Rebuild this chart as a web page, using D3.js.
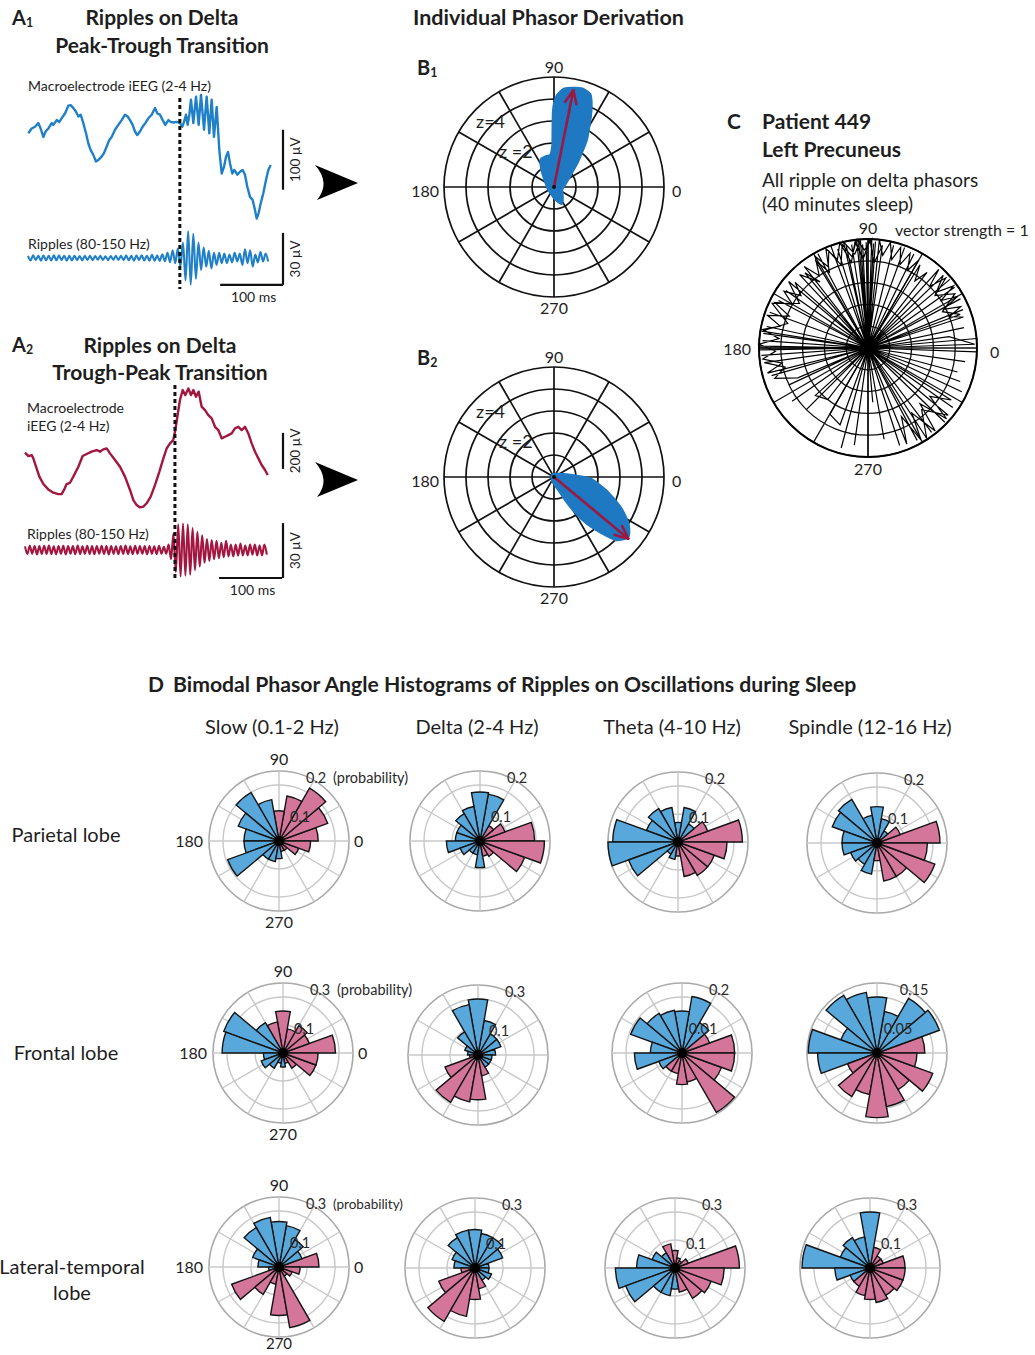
<!DOCTYPE html>
<html><head><meta charset="utf-8">
<script src="https://cdn.jsdelivr.net/npm/d3@7"></script>
<style>
body{margin:0;background:#fff}
svg{display:block}
text{font-family:Lato,'Open Sans',sans-serif}
</style>
</head><body>
<svg id="fig" width="1035" height="1355"></svg>
<script>
// ---------------- DATA ----------------
// Panel A1 (ms, µV)
const macroA1Time = [0.5,5.8,11.1,16.4,20.1,24.3,28,32.3,37.6,40.2,45.5,49.7,53.4,58.7,64,67.7,72,76.2,79.9,83.6,87.8,92.1,95.8,99.5,103.7,107.9,112.2,116.9,120.6,124.9,129.1,132.8,138.1,143.4,148.7,154,158.2,161.9,166.1,169.8,173.5,177.8,182,186.2,191,196.3,201.6,205.3,209.5,213.8,218,222.8,226.5,230.7,236,241.3,245,247.6,250.8,253.4,256.1,258.7,262.4,266.7,270.9,274.6,279.4,283.6,287.8,291.5,295.2,299.5,303.7,307.4,311.1,314.3,317.5,320.6,324.3,327.5,332.3,336.5,340.7,344.4,348.1,352.4,356.6,360.3,363,366.1,369.3,373.5,377.8,381.5,385.2];
const macroA1Volt = [0,8,11,17,8,-6,3,8,17,14,22,19,25,33,46,47,42,36,28,31,17,0,-17,-28,-36,-47,-44,-39,-33,-22,-11,-6,6,14,22,31,28,22,14,3,-3,3,11,17,25,31,42,33,31,22,14,22,19,18,19,17,11,19,31,14,31,56,17,61,14,64,6,61,0,56,-6,44,-28,-67,-56,-39,-31,-50,-67,-61,-69,-64,-61,-69,-89,-106,-111,-128,-142,-133,-117,-100,-78,-61,-53];
const rippleA1Step = 4.1; // ms between successive extrema
const rippleA1 = [1.2,-1.4,1.5,-1.2,1.3,-1.5,1.4,-1.3,1.2,-1.4,1.5,-1.3,1.4,-1.2,1.3,-1.5,1.2,-1.4,1.3,-1.2,1.1,-1.3,1.2,-1.1,1.3,-1.2,1.1,-1.0,1.2,-1.1,1.0,-1.2,1.1,-1.0,1.2,-1.1,1.3,-1.2,1.4,-1.3,1.2,-1.5,1.4,-1.2,1.6,-1.4,1.3,-1.5,1.8,-1.6,1.4,-1.7,
  2.2,-1.8,3.0,-2.4,4.5,-3.0,5.5,
  -5,9,-13,15.5,-15.5,14,-12,9,
  -7,6,-5,4,-6,3,-4,3,-3,
  2.5,-3,2,-2.5,3,-2,2.5,-4,5,-3,4.5,-5,2,-2.5,3.5,-2,2.5,-2];
// Panel A2
const macroA2Time = [0,5.3,10.6,13.2,17.5,22.8,29.1,37,45,52.9,58.2,61.9,66.1,71.4,76.7,84.7,91.5,97.9,105.8,113.8,119,124.3,129.6,134.9,142.9,150.8,158.7,166.7,172,177.2,182.5,187.8,193.1,199.5,206.3,213.2,219.6,224.9,230.2,235.4,238.6,241.8,246,250.3,254.5,259.3,263.5,267.2,271.4,275.7,280.4,285.7,291,296.3,301.6,306.9,312.2,317.5,322.8,328,333.3,338.6,343.9,349.2,354.5,359.8,365.1,370.4,375.7,381,385.2];
const macroA2Volt = [0,-18.5,-13,-31.5,-77.8,-133,-174,-204,-222,-230,-230,-207,-174,-167,-133,-78,-18.5,-7.4,5.6,14.8,5.6,18.5,24,-3.7,-40.7,-77.8,-133,-207,-263,-291,-304,-300,-281,-244,-180,-106,-31.5,24,51.9,70.4,126,200,292.6,348,320,357,320,348,311,339,255.6,237,209,190.7,144,126,79.6,88.9,98,107,135,144,126,144,107,51.9,5.6,-31.5,-68.5,-96.3,-124];
const rippleA2Step = 3.8;
const rippleA2 = [2,-2.2,2.3,-2,2.2,-2.4,2.1,-2.2,2.3,-2.1,2.4,-2.2,2,-2.3,2.2,-2.1,2.3,-2.4,2.2,-2,2.1,-2.3,2.4,-2.2,2,-2.1,2.3,-2.2,2.1,-2.3,2.2,-2,2.3,-2.2,2.1,-2.4,2.2,-2.1,2,-2.3,2.2,-2.1,2.4,-2.2,2,-2.2,2.3,-2.1,2.2,-2,2.1,-2.3,2.2,-2.1,2,-2.2,2.3,-2,1.8,-2,
  3,-5,9,-12,14,-14.5,14.5,-14,14,-13.5,12,-11,10,-9,8,-7,
  6,-6,5.5,-5,5,-4.5,4,-4,5,-3.5,3,-3.5,3,-3,3.5,-3,2.5,-3,3,-2.5,3,-3,2.5,-3,3,-2.5];

// Panel B: phasor cloud outlines [angle deg, z] and resultant vectors
const phasorB1 = [[275,0.5],[295,0.8],[310,0.55],[340,0.35],[10,0.45],[30,0.7],[40,1.0],[47,1.5],[52,2.0],[56,2.6],[60,3.1],[63,3.6],[66,4.1],[69,4.5],[74,4.62],[79,4.55],[84,4.45],[88,4.1],[90,3.5],[90.5,2.6],[91,1.9],[95,1.45],[105,1.4],[115,1.35],[125,0.9],[150,0.4],[200,0.25],[250,0.3]];
const vectorB1 = [78.7, 4.48];
const phasorB2 = [[20,0.3],[2,0.9],[356,1.65],[344,2.5],[334,3.4],[327,4.0],[321,4.3],[315,4.0],[311,3.35],[306,2.6],[302,1.9],[298,1.2],[292,0.6],[260,0.2],[120,0.1]];
const vectorB2 = [320.3, 4.39];

// Panel C: all ripple-on-delta phasors [angle deg, vector strength], in drawing order
const phasorC = [[0,0],[88,1],[92,0.9],[96,1],[100,0.85],[104,0.98],[108,0.8],[112,0.96],[116,0.83],[120,0.97],[124,0.8],[128,0.95],[0,0],
 [84,1],[81,0.86],[78,0.99],[75,0.84],[72,0.97],[69,0.82],[66,0.95],[63,0.8],[60,0.93],[0,0],
 [90,1],[0,0],[94,0.99],[98,0.87],[103,1],[0,0],[86,0.98],[0,0],[91,0.97],[0,0],[95,1],[0,0],[99,0.96],[0,0],
 [82,0.95],[86,0.78],[89,1],[93,0.82],[97,0.98],[101,0.8],[105,1],[109,0.86],[113,0.99],[117,0.78],[121,0.94],[0,0],
 [130,0.9],[126,0.75],[133,0.92],[0,0],[118,0.98],[0,0],[110,1],[0,0],[76,0.97],[0,0],[70,0.98],[0,0],[64,0.96],[0,0],
 [58,0.9],[55,0.75],[52,0.88],[0,0],[93,0.95],[0,0],[96,0.98],[0,0],[87,0.96],[0,0],[102,0.97],[0,0],[107,0.95],[0,0],
 [138,0.9],[142,0.78],[146,0.93],[150,0.8],[154,0.95],[158,0.78],[162,0.97],[166,0.83],[170,0.98],[174,0.82],[178,1],[182,0.85],[186,0.97],[190,0.8],[194,0.95],[0,0],
 [180,1],[0,0],[179,1],[0,0],[181,0.99],[0,0],[176,0.97],[0,0],[168,0.95],[0,0],[160,0.96],[0,0],[152,0.93],[0,0],[145,0.92],[0,0],
 [188,0.96],[193,0.78],[198,0.9],[203,0.7],[0,0],[196,0.92],[0,0],[205,0.8],[0,0],
 [140,0.95],[147,0.75],[155,0.97],[163,0.77],[171,0.99],[0,0],[184,0.98],[0,0],[172,0.97],[0,0],
 [48,0.97],[45,0.8],[42,0.96],[39,0.82],[36,0.97],[33,0.8],[30,0.95],[27,0.78],[24,0.93],[21,0.8],[18,0.92],[0,0],
 [40,0.98],[0,0],[35,0.97],[0,0],[28,0.96],[0,0],[22,0.94],[0,0],[44,0.96],[38,0.78],[32,0.94],[26,0.76],[20,0.9],[0,0],
 [12,0.9],[0,0],[5,1],[0,0],[2,0.98],[8,0.75],[0,0],[358,1],[0,0],[352,0.9],[0,0],
 [335,0.95],[0,0],[328,0.9],[322,0.72],[318,0.97],[313,0.7],[309,0.98],[304,0.72],[300,0.97],[296,0.7],[292,0.95],[0,0],
 [316,0.98],[0,0],[307,0.97],[0,0],[298,0.96],[0,0],[288,0.94],[0,0],[325,0.95],[0,0],[340,0.9],[0,0],[345,0.85],[0,0],
 [320,0.96],[311,0.75],[303,0.99],[0,0],
 [270,1],[0,0],[262,0.9],[0,0],[250,0.75],[240,0.7],[0,0],[232,0.6],[222,0.65],[0,0],[215,0.85],[0,0],[280,0.85],[0,0],[255,0.95],[0,0],[225,0.8],[0,0],[275,0.5],[0,0]];

// Panel D: rose histograms, 18 bins of 20 deg (bin centres)
const binCenters = [10,30,50,70,90,110,130,150,170,190,210,230,250,270,290,310,330,350];
const bandNames = ["Slow (0.1-2 Hz)","Delta (2-4 Hz)","Theta (4-10 Hz)","Spindle (12-16 Hz)"];
const lobeNames = ["Parietal lobe","Frontal lobe","Lateral-temporal","lobe"];
const parietalSlow    = [0.14,0.185,0.218,0.163,0.108,0.15,0.2,0.155,0.125,0.125,0.195,0.075,0.075,0.063,0.038,0.038,0.075,0.113];
const parietalDelta   = [0.195,0.095,0.063,0.17,0.175,0.125,0.113,0.088,0.088,0.12,0.075,0.05,0.05,0.095,0.055,0.063,0.17,0.23];
const parietalTheta   = [0.23,0.113,0.075,0.125,0.07,0.125,0.138,0.12,0.233,0.25,0.188,0.05,0.063,0.05,0.125,0.138,0.138,0.175];
const parietalSpindle = [0.225,0.088,0.05,0.088,0.13,0.1,0.18,0.17,0.125,0.125,0.1,0.088,0.113,0.063,0.138,0.138,0.22,0.18];
const frontalSlow     = [0.281,0.15,0.169,0.131,0.225,0.169,0.188,0.338,0.326,0.105,0.124,0.094,0.056,0.075,0.056,0.094,0.188,0.188];
const frontalDelta    = [0.094,0.131,0.131,0.188,0.3,0.274,0.143,0.075,0.056,0.045,0.188,0.293,0.255,0.24,0.113,0.075,0.075,0.075];
const frontalTheta    = [0.188,0.105,0.125,0.205,0.15,0.155,0.163,0.195,0.113,0.17,0.088,0.075,0.075,0.113,0.105,0.245,0.15,0.188];
const frontalSpindle  = [0.128,0.178,0.169,0.113,0.15,0.165,0.178,0.103,0.184,0.159,0.084,0.135,0.113,0.173,0.146,0.113,0.159,0.107];
const temporalSlow    = [0.214,0.131,0.169,0.225,0.244,0.27,0.244,0.15,0.113,0.056,0.27,0.169,0.094,0.26,0.33,0.056,0.075,0.113];
const temporalDelta   = [0.075,0.158,0.188,0.188,0.206,0.206,0.188,0.131,0.113,0.075,0.206,0.33,0.263,0.169,0.113,0.075,0.094,0.075];
const temporalTheta   = [0.345,0.075,0.045,0.056,0.094,0.131,0.094,0.131,0.206,0.319,0.281,0.15,0.15,0.113,0.131,0.188,0.206,0.263];
const temporalSpindle = [0.188,0.075,0.075,0.113,0.3,0.169,0.188,0.169,0.364,0.188,0.113,0.113,0.15,0.169,0.188,0.169,0.188,0.188];
// mode membership per bin: b = mode 1 (blue), p = mode 2 (pink)
const parietalSlowMode    = "pppppbbbbbbbbbpppp";
const parietalDeltaMode   = "pppbbbbbbbbbbbpppp";
const parietalThetaMode   = "ppbbbbbbbbbbbppppp";
const parietalSpindleMode = "ppbbbbbbbbbbbppppp";
const frontalSlowMode     = "ppppppbbbbbbbbpppp";
const frontalDeltaMode    = "bbbbbbbbbppppppbbb";
const frontalThetaMode    = "ppbbbbbbbbbppppppp";
const frontalSpindleMode  = "pbbbbbbbbbpppppppp";
const temporalSlowMode    = "pbbbbbbbbbpppppppp";
const temporalDeltaMode   = "bbbbbbbbbppppppbbb";
const temporalThetaMode   = "ppppppbbbbbbbbpppp";
const temporalSpindleMode = "ppppbbbbbbbppppppp";
// radial tick labels [outer, inner] and value of outer labelled ring
const rowTickLabels = [
  [["0.2","0.1"],["0.2","0.1"],["0.2","0.1"],["0.2","0.1"]],
  [["0.3","0.1"],["0.3","0.1"],["0.2","0.01"],["0.15","0.05"]],
  [["0.3","0.1"],["0.3","0.1"],["0.3","0.1"],["0.3","0.1"]]
];
const rowOuterValue = [[0.2,0.2,0.2,0.2],[0.3,0.3,0.2,0.15],[0.3,0.3,0.3,0.3]];

// ---------------- DRAWING ----------------
const svg = d3.select("#fig");
const INK = "#1e1e1e";
const BLUE_TR = "#1f80c8", RED_TR = "#a3163f";
const BLUE_B = "#1e78c2", ARROW = "#9c1840";
const ROSE_BLUE = "#59a8dc", ROSE_PINK = "#d4759a";
const rad = d => d * Math.PI / 180;

function txt(x, y, s, o = {}) {
  const t = svg.append("text").attr("x", x).attr("y", y).text(s)
    .attr("font-size", o.size || 14).attr("font-weight", o.bold ? "bold" : "normal")
    .attr("text-anchor", o.anchor || "start").attr("fill", o.fill || INK);
  if (o.transform) t.attr("transform", o.transform);
  return t;
}
function subLabel(x, y, main, sub, size) {
  const t = svg.append("text").attr("x", x).attr("y", y).attr("font-weight", "bold")
    .attr("font-size", size).attr("fill", INK);
  t.append("tspan").text(main);
  t.append("tspan").attr("font-size", size * 0.62).attr("dy", 2).text(sub);
}

// ---- Panel A (waveforms) ----
function panelA(cfg) {
  const x = d3.scaleLinear().domain([0, 390]).range(cfg.xr);
  const yM = d3.scaleLinear().domain([0, 1]).range([cfg.m0, cfg.m0 - cfg.mpx]);
  const yR = d3.scaleLinear().domain([0, 1]).range([cfg.r0, cfg.r0 - cfg.rpx]);
  const macro = cfg.mt.map((t, i) => [t, cfg.mv[i]]);
  const rip = cfg.rip.map((v, i) => [i * cfg.step, v]);
  svg.append("path").datum(macro)
    .attr("d", d3.line().x(d => x(d[0])).y(d => yM(d[1])))
    .attr("fill", "none").attr("stroke", cfg.col).attr("stroke-width", 2.4).attr("stroke-linejoin", "round");
  svg.append("path").datum(rip)
    .attr("d", d3.line().x(d => x(d[0])).y(d => yR(d[1])).curve(d3.curveMonotoneX))
    .attr("fill", "none").attr("stroke", cfg.col).attr("stroke-width", 2.1);
  svg.append("line").attr("x1", x(cfg.onset)).attr("x2", x(cfg.onset))
    .attr("y1", cfg.dash[0]).attr("y2", cfg.dash[1])
    .attr("stroke", "#111").attr("stroke-width", 3).attr("stroke-dasharray", "4,3");
  const bx = cfg.barX;
  svg.append("line").attr("x1", bx).attr("x2", bx).attr("y1", yM(cfg.mBar[0])).attr("y2", yM(cfg.mBar[1]))
    .attr("stroke", "#111").attr("stroke-width", 2.2);
  svg.append("line").attr("x1", bx).attr("x2", bx).attr("y1", yR(cfg.rBar[0])).attr("y2", yR(cfg.rBar[1]))
    .attr("stroke", "#111").attr("stroke-width", 2.2);
  const yb = yR(cfg.rBar[0]);
  svg.append("line").attr("x1", x(cfg.tBar[0])).attr("x2", x(cfg.tBar[1])).attr("y1", yb).attr("y2", yb)
    .attr("stroke", "#111").attr("stroke-width", 2.2);
  const my = (yM(cfg.mBar[0]) + yM(cfg.mBar[1])) / 2, ry = (yR(cfg.rBar[0]) + yR(cfg.rBar[1])) / 2;
  txt(0, 0, cfg.mLabel, {size: 13.5, anchor: "middle", transform: `translate(${bx + 17},${my}) rotate(-90)`});
  txt(0, 0, "30 µV", {size: 13.5, anchor: "middle", transform: `translate(${bx + 17},${ry}) rotate(-90)`});
  txt((x(cfg.tBar[0]) + x(cfg.tBar[1])) / 2 + 2, yb + 17, "100 ms", {size: 14, anchor: "middle"});
}

subLabel(12, 25, "A", "1", 20);
txt(162, 25, "Ripples on Delta", {size: 21, bold: true, anchor: "middle"});
txt(162, 53, "Peak-Trough Transition", {size: 21, bold: true, anchor: "middle"});
txt(28, 91, "Macroelectrode iEEG (2-4 Hz)", {size: 14});
txt(28, 249, "Ripples (80-150 Hz)", {size: 14});
panelA({xr: [28, 273.7], m0: 133.3, mpx: 0.6, r0: 258, rpx: 1.73, mt: macroA1Time, mv: macroA1Volt,
  rip: rippleA1, step: rippleA1Step, col: BLUE_TR, onset: 241, dash: [98, 289], barX: 283,
  mBar: [6, -94], rBar: [-15.5, 14.5], tBar: [305, 405], mLabel: "100 µV"});

subLabel(12, 352, "A", "2", 20);
txt(160, 353, "Ripples on Delta", {size: 21, bold: true, anchor: "middle"});
txt(160, 380, "Trough-Peak Transition", {size: 21, bold: true, anchor: "middle"});
txt(27, 413, "Macroelectrode", {size: 14});
txt(27, 431, "iEEG (2-4 Hz)", {size: 14});
txt(27, 539, "Ripples (80-150 Hz)", {size: 14});
panelA({xr: [25, 270.7], m0: 452.7, mpx: 0.18, r0: 550, rpx: 1.83, mt: macroA2Time, mv: macroA2Volt,
  rip: rippleA2, step: rippleA2Step, col: RED_TR, onset: 238, dash: [385, 581], barX: 283,
  mBar: [110, -90], rBar: [-15.3, 14.7], tBar: [308, 408], mLabel: "200 µV"});

function bigArrow(x, y) {
  svg.append("path").attr("d", `M${x + 43},${y + 18} L${x},${y} Q${x + 16},${y + 18} ${x + 2},${y + 35} Z`).attr("fill", "#000");
}
bigArrow(315, 165);
bigArrow(315, 462);

// ---- Panel B ----
function polarGrid(g, R, nRings, col, w) {
  g.selectAll(null).data(d3.range(1, nRings + 1)).join("circle")
    .attr("r", d => R * d / nRings).attr("fill", "none").attr("stroke", col).attr("stroke-width", w);
  g.selectAll(null).data(d3.range(0, 180, 30)).join("line")
    .attr("x1", d => -R * Math.cos(rad(d))).attr("y1", d => R * Math.sin(rad(d)))
    .attr("x2", d => R * Math.cos(rad(d))).attr("y2", d => -R * Math.sin(rad(d)))
    .attr("stroke", col).attr("stroke-width", w);
}
function panelB(cx, cy, label, cloud, vec) {
  const R = 110;
  const z = d3.scaleLinear().domain([0, 5]).range([0, R]);
  const g = svg.append("g").attr("transform", `translate(${cx},${cy})`);
  polarGrid(g, R, 5, "#111", 1.7);
  const lr = d3.lineRadial().angle(d => rad(90 - d[0])).radius(d => z(d[1])).curve(d3.curveCardinalClosed.tension(0.4));
  g.append("path").datum(cloud).attr("d", lr).attr("fill", BLUE_B).attr("stroke", BLUE_B)
    .attr("stroke-width", 4).attr("stroke-linejoin", "round");
  const tx = z(vec[1]) * Math.cos(rad(vec[0])), ty = -z(vec[1]) * Math.sin(rad(vec[0]));
  g.append("line").attr("x1", 0).attr("y1", 0).attr("x2", tx).attr("y2", ty)
    .attr("stroke", ARROW).attr("stroke-width", 2.6);
  const back = Math.atan2(-ty, -tx);
  [0.42, -0.42].forEach(s => {
    g.append("line").attr("x1", tx).attr("y1", ty)
      .attr("x2", tx + 14 * Math.cos(back + s)).attr("y2", ty + 14 * Math.sin(back + s))
      .attr("stroke", ARROW).attr("stroke-width", 2.6).attr("stroke-linecap", "round");
  });
  g.append("circle").attr("r", 2).attr("fill", "#111");
  txt(cx, cy - R - 4, "90", {size: 16, anchor: "middle"});
  txt(cx, cy + R + 17, "270", {size: 16, anchor: "middle"});
  txt(cx - R - 5, cy + 10, "180", {size: 16, anchor: "end"});
  txt(cx + R + 8, cy + 10, "0", {size: 16});
  txt(cx - 78, cy - 59, "z=4", {size: 18});
  txt(cx - 55, cy - 29, "z =2", {size: 18});
  subLabel(cx - 137, cy - 112, "B", label, 20);
}
txt(413, 25, "Individual Phasor Derivation", {size: 21.5, bold: true});
panelB(554, 187, "1", phasorB1, vectorB1);
panelB(554, 477, "2", phasorB2, vectorB2);

// ---- Panel C ----
(function () {
  const cx = 868, cy = 348, R = 109;
  const r = d3.scaleLinear().domain([0, 1]).range([0, R]);
  const g = svg.append("g").attr("transform", `translate(${cx},${cy})`);
  polarGrid(g, R, 5, "#111", 1.3);
  g.append("path").datum(phasorC)
    .attr("d", d3.lineRadial().angle(d => rad(90 - d[0])).radius(d => r(d[1])))
    .attr("fill", "none").attr("stroke", "#000").attr("stroke-width", 1.2).attr("stroke-linejoin", "miter");
  g.append("circle").attr("r", R).attr("fill", "none").attr("stroke", "#000").attr("stroke-width", 2);
  txt(727, 129, "C", {size: 21, bold: true});
  txt(762, 129, "Patient 449", {size: 21, bold: true});
  txt(762, 157, "Left Precuneus", {size: 21, bold: true});
  txt(762, 187, "All ripple on delta phasors", {size: 19});
  txt(762, 211, "(40 minutes sleep)", {size: 19});
  txt(895, 236, "vector strength = 1", {size: 16});
  txt(cx, cy - R - 5, "90", {size: 16, anchor: "middle"});
  txt(cx, cy + R + 18, "270", {size: 16, anchor: "middle"});
  txt(cx - R - 8, cy + 7, "180", {size: 16, anchor: "end"});
  txt(cx + R + 13, cy + 10, "0", {size: 16});
})();

// ---- Panel D ----
txt(148, 692, "D", {size: 21, bold: true});
txt(173, 692, "Bimodal Phasor Angle Histograms of Ripples on Oscillations during Sleep", {size: 21.2, bold: true});
const colX = [272, 477, 672, 870];
bandNames.forEach((b, i) => txt(colX[i], 734, b, {size: 20, anchor: "middle"}));
txt(66, 842, lobeNames[0], {size: 20, anchor: "middle"});
txt(66, 1060, lobeNames[1], {size: 20, anchor: "middle"});
txt(72, 1274, lobeNames[2], {size: 20, anchor: "middle"});
txt(72, 1300, lobeNames[3], {size: 20, anchor: "middle"});

const roseValues = [[parietalSlow, parietalDelta, parietalTheta, parietalSpindle],
                    [frontalSlow, frontalDelta, frontalTheta, frontalSpindle],
                    [temporalSlow, temporalDelta, temporalTheta, temporalSpindle]];
const roseModes = [[parietalSlowMode, parietalDeltaMode, parietalThetaMode, parietalSpindleMode],
                   [frontalSlowMode, frontalDeltaMode, frontalThetaMode, frontalSpindleMode],
                   [temporalSlowMode, temporalDeltaMode, temporalThetaMode, temporalSpindleMode]];
const roseCenters = [[[279, 841], [480, 841], [678, 842], [877, 843]],
                     [[283, 1053], [478, 1055], [682, 1053], [877, 1053]],
                     [[279, 1267], [475, 1268], [675, 1268], [870, 1268]]];
const RR = 70;
const arc = d3.arc().innerRadius(0);
for (let row = 0; row < 3; row++) {
  for (let col = 0; col < 4; col++) {
    const [cx, cy] = roseCenters[row][col];
    const rMax = rowOuterValue[row][col] / 0.8;
    const r = d3.scaleLinear().domain([0, rMax]).range([0, RR]);
    const g = svg.append("g").attr("transform", `translate(${cx},${cy})`);
    g.selectAll(null).data([rMax * 0.4, rMax * 0.8, rMax]).join("circle")
      .attr("r", d => r(d)).attr("fill", "none")
      .attr("stroke", (d, i) => i === 2 ? "#a9a9a9" : "#c8c8c8").attr("stroke-width", (d, i) => i === 2 ? 1.6 : 1.4);
    g.selectAll(null).data(d3.range(0, 360, 30)).join("line")
      .attr("x2", d => RR * Math.cos(rad(d))).attr("y2", d => -RR * Math.sin(rad(d)))
      .attr("stroke", "#c8c8c8").attr("stroke-width", 1.4);
    const vals = roseValues[row][col], modes = roseModes[row][col];
    g.selectAll(null).data(vals.map((v, i) => ({v, c: binCenters[i], m: modes[i]}))).join("path")
      .attr("d", d => arc({outerRadius: r(d.v), startAngle: rad(90 - d.c - 10), endAngle: rad(90 - d.c + 10)}))
      .attr("fill", d => d.m === "b" ? ROSE_BLUE : ROSE_PINK)
      .attr("stroke", "#141414").attr("stroke-width", 1.4).attr("stroke-linejoin", "miter");
    g.append("circle").attr("r", 5).attr("fill", "#000");
    const [lo, li] = rowTickLabels[row][col];
    txt(cx + 37, cy - 58, lo, {size: 14.5, anchor: "middle", fill: "#2a2a2a"});
    txt(cx + 21, cy - 19, li, {size: 14.5, anchor: "middle", fill: "#2a2a2a"});
    if (col === 0) {
      txt(cx + 54, cy - 58, "(probability)", {size: row === 2 ? 13.5 : 14.5, fill: "#2a2a2a"});
      txt(cx, cy - RR - 6, "90", {size: 16, anchor: "middle"});
      txt(cx, row === 2 ? 1349 : cy + RR + 17, "270", {size: row === 2 ? 15 : 16, anchor: "middle"});
      txt(cx - RR - 6, cy + 6, "180", {size: 16, anchor: "end"});
      txt(cx + RR + 5, cy + 6, "0", {size: 16});
    }
  }
}
</script>
</body></html>
